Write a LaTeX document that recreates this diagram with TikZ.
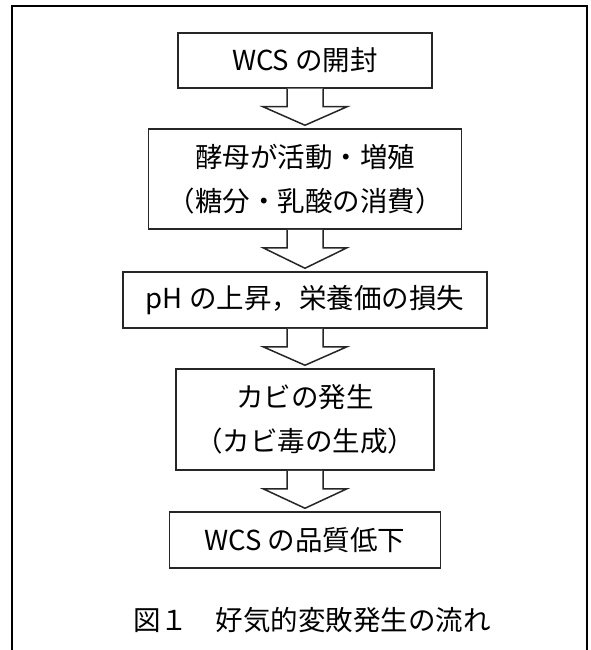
\documentclass[tikz,border=0pt]{standalone}
\usepackage{fontspec}
\setmainfont{Noto Sans CJK JP}
\usetikzlibrary{calc}
\tikzset{
  flowbox/.style={draw=black!85, line width=1.5pt, fill=white, inner sep=0pt, align=center,
    font=\fontsize{27.5}{44}\selectfont},
  blockarrow/.style={draw=black!85, line width=1.5pt, fill=white, line join=miter},
  frameline/.style={draw=black, line width=1.2pt}
}
\newcommand\flowarrow[2]{%
  \draw[blockarrow] ($(#1.south)+(-18,0)$) -- ($(#1.south)+(-18,18)$) -- ($(#1.south)+(-42,18)$)
    -- ($(#2.north)+(0,-3)$) -- ($(#1.south)+(42,18)$) -- ($(#1.south)+(18,18)$) -- ($(#1.south)+(18,0)$);}
\begin{document}
\begin{tikzpicture}[x=1pt,y=-1pt]
\useasboundingbox (0,0) rectangle (591,650);
\draw[frameline] (12,650) -- (12,6) -- (587,6) -- (587,650);
\node[flowbox, minimum width=254pt, minimum height=55pt] (b1) at (305,60.5) {WCS の開封};
\node[flowbox, minimum width=313pt, minimum height=100pt] (b2) at (305,179) {酵母が活動・増殖\\（糖分・乳酸の消費）};
\node[flowbox, minimum width=364pt, minimum height=56pt] (b3) at (305,300) {pH の上昇，栄養価の損失};
\node[flowbox, minimum width=258pt, minimum height=101pt] (b4) at (305,419.5) {カビの発生\\（カビ毒の生成）};
\node[flowbox, minimum width=271pt, minimum height=56pt] (b5) at (305,540) {WCS の品質低下};
\flowarrow{b1}{b2}
\flowarrow{b2}{b3}
\flowarrow{b3}{b4}
\flowarrow{b4}{b5}
\node[font=\fontsize{27.5}{33}\selectfont, inner sep=0pt] (cap) at (312,620) {図１　好気的変敗発生の流れ};
\end{tikzpicture}
\end{document}
